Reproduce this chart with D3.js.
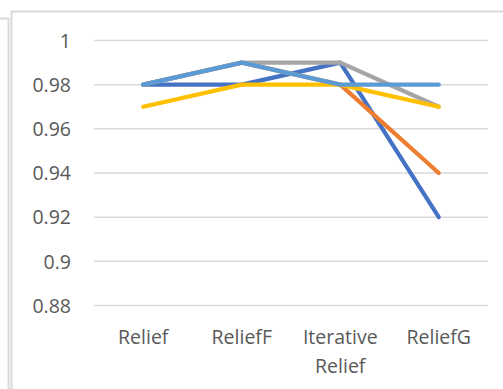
<!DOCTYPE html>
<html>
<head>
<meta charset="utf-8">
<script src="https://cdn.jsdelivr.net/npm/d3@7"></script>
<style>
  html, body { margin: 0; padding: 0; background: #fff; }
  svg { display: block; }
  text { font-family: "Open Sans", sans-serif; fill: #595959; }
</style>
</head>
<body>
<svg id="chart" width="503" height="389"></svg>
<script>
// Accuracy of each Relief variant across five runs
const categories = [["Relief"], ["ReliefF"], ["Iterative", "Relief"], ["ReliefG"]];
const series1 = [0.98, 0.98, 0.99, 0.92];
const series2 = [0.98, 0.99, 0.98, 0.94];
const series3 = [0.98, 0.99, 0.99, 0.97];
const series4 = [0.97, 0.98, 0.98, 0.97];
const series5 = [0.98, 0.99, 0.98, 0.98];
const yTicks = [0.88, 0.9, 0.92, 0.94, 0.96, 0.98, 1];

const seriesList = [
  { values: series1, color: "#4472C4" },
  { values: series2, color: "#ED7D31" },
  { values: series3, color: "#A5A5A5" },
  { values: series4, color: "#FFC000" },
  { values: series5, color: "#5B9BD5" }
];

const svg = d3.select("#chart");

// frame lines of the surrounding sheet
svg.append("path")
  .attr("d", "M0,18.5H9M8.5,18V389")
  .attr("stroke", "#D9D9D9").attr("stroke-width", 2).attr("fill", "none");
svg.append("path")
  .attr("d", "M11.5,389V11.5H503")
  .attr("stroke", "#D9D9D9").attr("stroke-width", 2).attr("fill", "none");

const plot = { left: 94, right: 488, top: 40.5, bottom: 305.5 };

const x = d3.scaleBand()
  .domain(categories.map((c, i) => i))
  .range([plot.left, plot.right]);

const y = d3.scaleLinear()
  .domain([0.88, 1])
  .range([plot.bottom, plot.top]);

// horizontal gridlines
svg.append("g")
  .selectAll("line")
  .data(yTicks)
  .join("line")
  .attr("x1", plot.left).attr("x2", plot.right)
  .attr("y1", d => y(d)).attr("y2", d => y(d))
  .attr("stroke", "#D9D9D9").attr("stroke-width", 1.5);

// y axis labels
const yAxis = d3.axisLeft(y).tickValues(yTicks).tickSize(0).tickPadding(0)
  .tickFormat(d => String(+d.toFixed(2)));
const gy = svg.append("g").attr("transform", `translate(${plot.left - 23},0)`).call(yAxis);
gy.select(".domain").remove();
gy.selectAll("text")
  .attr("font-size", 19.5)
  .attr("font-family", "'Open Sans', sans-serif")
  .attr("fill", "#595959")
  .attr("dy", "0.35em");

// x axis labels (may wrap to two lines)
const gx = svg.append("g");
categories.forEach((lines, i) => {
  const t = gx.append("text")
    .attr("x", x(i) + x.bandwidth() / 2)
    .attr("y", 344)
    .attr("text-anchor", "middle")
    .attr("font-size", 19.5);
  lines.forEach((ln, j) => {
    t.append("tspan")
      .attr("x", x(i) + x.bandwidth() / 2)
      .attr("dy", j === 0 ? 0 : 29)
      .text(ln);
  });
});

// series lines
const line = d3.line()
  .x((d, i) => x(i) + x.bandwidth() / 2)
  .y(d => y(d));

svg.append("g")
  .selectAll("path")
  .data(seriesList)
  .join("path")
  .attr("d", d => line(d.values))
  .attr("fill", "none")
  .attr("stroke", d => d.color)
  .attr("stroke-width", 4.2)
  .attr("stroke-linecap", "round")
  .attr("stroke-linejoin", "round");
</script>
</body>
</html>
